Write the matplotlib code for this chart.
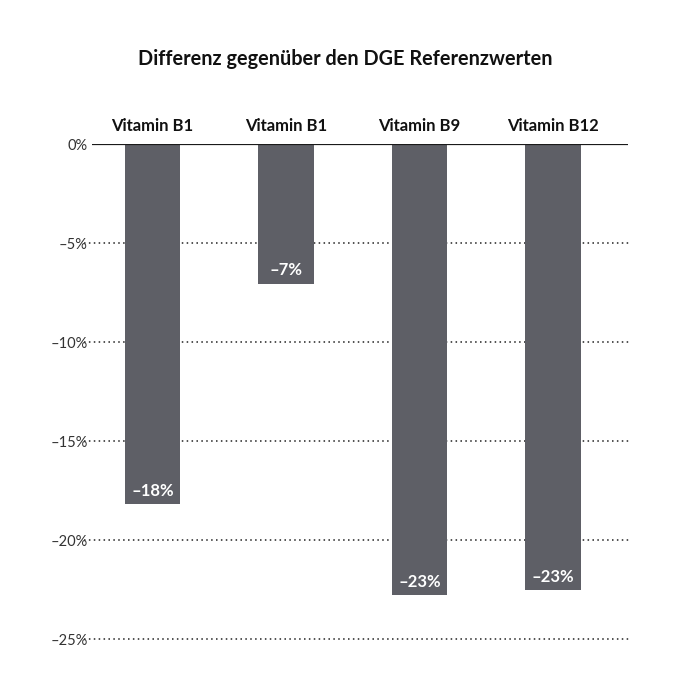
# bar chart: differenz gegenüber den DGE referenzwerten

import matplotlib
matplotlib.use("Agg")
import matplotlib.pyplot as plt

plt.rcParams["font.family"] = ["Lato", "DejaVu Sans"]

# data
categories = ["Vitamin B1", "Vitamin B1", "Vitamin B9", "Vitamin B12"]
values = [-18.2, -7.05, -22.8, -22.55]
value_labels = ["–18%", "–7%", "–23%", "–23%"]
y_ticks = [0, -5, -10, -15, -20, -25]
y_tick_labels = ["0%", "–5%", "–10%", "–15%", "–20%", "–25%"]

bar_color = "#5e5f66"

fig = plt.figure(figsize=(6.9, 6.9), dpi=100)
ax = fig.add_axes([0.1333, 0.0739, 0.7768, 0.7174])

x = list(range(len(categories)))
ax.bar(x, values, width=0.415, color=bar_color, zorder=3)

ax.set_xlim(-0.453, 3.562)
ax.set_ylim(-25, 0)

# dotted gridlines, slightly reaching past the left axis edge
for t in y_ticks[1:]:
    ax.plot([-0.51, 3.575], [t, t], linestyle=(0, (1, 2.2)), color="#222222",
            linewidth=1.1, clip_on=False, zorder=1)
ax.axhline(0, color="#1a1a1a", linewidth=1.6, zorder=4)

# value labels inside the bars near the bottom
for xi, v, lab in zip(x, values, value_labels):
    ax.annotate(lab, (xi, v), xytext=(0, 9.5), textcoords="offset points",
                ha="center", va="center", color="white", fontsize=12,
                fontweight="bold", zorder=5)

# category labels above the zero line
for xi, cat in zip(x, categories):
    ax.annotate(cat, (xi, 0), xytext=(0, 13), textcoords="offset points",
                ha="center", va="center", color="#111111", fontsize=12,
                fontweight="bold", annotation_clip=False)

ax.set_yticks(y_ticks)
ax.set_yticklabels(y_tick_labels, fontsize=10.5, color="#333333")
ax.tick_params(axis="y", length=0, pad=3)
ax.set_xticks([])
for s in ax.spines.values():
    s.set_visible(False)

fig.text(0.5, 0.915, "Differenz gegenüber den DGE Referenzwerten",
         ha="center", va="center", fontsize=14.3, fontweight="bold",
         color="#111111")

fig.savefig("out.png", dpi=100, facecolor="white")
